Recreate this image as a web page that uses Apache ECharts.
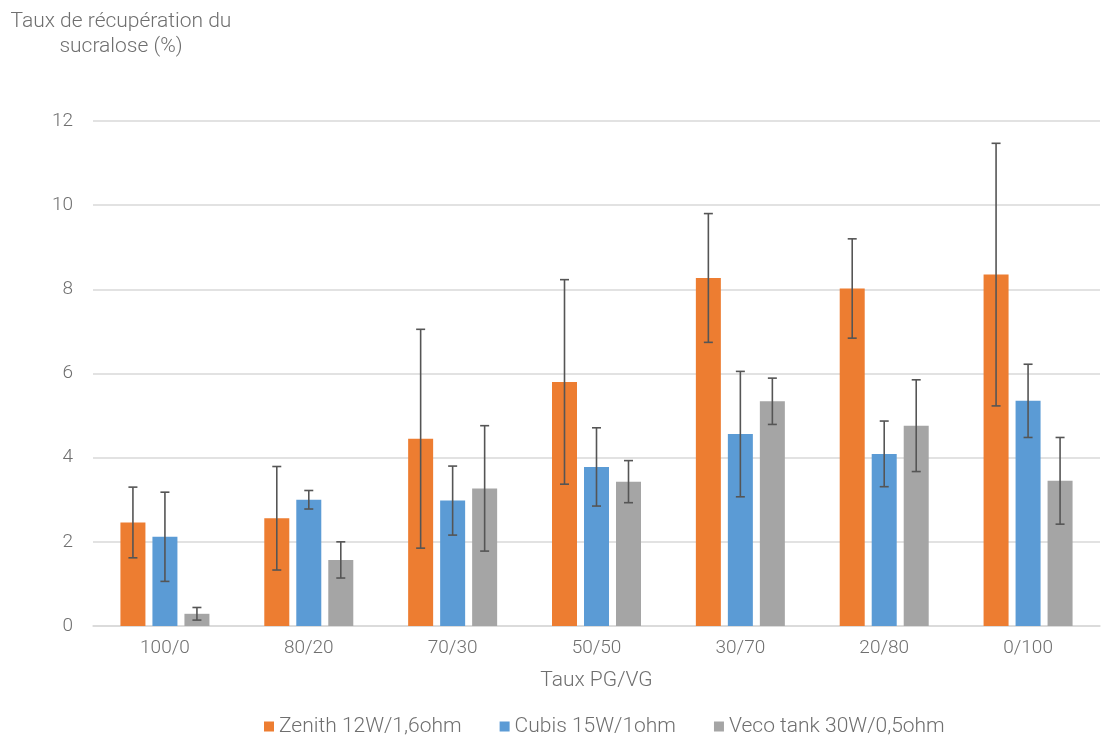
<!DOCTYPE html>
<html>
<head>
<meta charset="utf-8">
<script src="https://cdn.jsdelivr.net/npm/echarts@6/dist/echarts.min.js"></script>
<style>
  html, body { margin: 0; padding: 0; background: #fff; }
  #chart { width: 1112px; height: 736px; }
</style>
</head>
<body>
<div id="chart"></div>
<script>
// PG/VG ratios tested
const categories = ['100/0', '80/20', '70/30', '50/50', '30/70', '20/80', '0/100'];
const seriesNames = ['Zenith 12W/1,6ohm', 'Cubis 15W/1ohm', 'Veco tank 30W/0,5ohm'];

// Mean sucralose recovery (%) per device
const zenith = [2.46, 2.56, 4.45, 5.80, 8.27, 8.02, 8.35];
const cubis = [2.12, 3.00, 2.98, 3.78, 4.56, 4.09, 5.35];
const veco = [0.29, 1.57, 3.27, 3.43, 5.34, 4.76, 3.45];

// Standard deviations (error bars, ±)
const zenithErr = [0.84, 1.23, 2.60, 2.43, 1.53, 1.18, 3.12];
const cubisErr = [1.06, 0.22, 0.82, 0.93, 1.49, 0.78, 0.87];
const vecoErr = [0.15, 0.43, 1.49, 0.50, 0.55, 1.09, 1.03];

const yTicks = [0, 2, 4, 6, 8, 10, 12];

const colors = ['#ED7D31', '#5B9BD5', '#A5A5A5'];
const textColor = '#6f6f6f';
const fontFamily = 'Roboto, "Open Sans", sans-serif';
const LABEL_SIZE = 19;
const NAME_SIZE = 21;
const BAR_W = 25;
const BAR_GAP = 7;

const chart = echarts.init(document.getElementById('chart'));

const values = [zenith, cubis, veco];
const errs = [zenithErr, cubisErr, vecoErr];

const barSeries = values.map((v, i) => ({
  name: seriesNames[i],
  type: 'bar',
  data: v,
  barWidth: BAR_W,
  barGap: (BAR_GAP / BAR_W * 100) + '%',
  itemStyle: { color: colors[i] },
  z: 2
}));

// Error bars drawn over each bar, offset to the bar's slot in its group
const errSeries = values.map((v, i) => ({
  name: seriesNames[i] + ' err',
  type: 'custom',
  data: v.map((m, k) => [k, m - errs[i][k], m + errs[i][k]]),
  z: 5,
  silent: true,
  renderItem: function (params, api) {
    const offset = (i - 1) * (BAR_W + BAR_GAP);
    const lo = api.coord([api.value(0), api.value(1)]);
    const hi = api.coord([api.value(0), api.value(2)]);
    const x = lo[0] + offset;
    const cap = 4.5;
    const style = { stroke: '#555555', lineWidth: 1.6 };
    return {
      type: 'group',
      children: [
        { type: 'line', shape: { x1: x, y1: hi[1], x2: x, y2: lo[1] }, style },
        { type: 'line', shape: { x1: x - cap, y1: hi[1], x2: x + cap, y2: hi[1] }, style },
        { type: 'line', shape: { x1: x - cap, y1: lo[1], x2: x + cap, y2: lo[1] }, style }
      ]
    };
  },
  encode: { x: 0, y: [1, 2] }
}));

chart.setOption({
  animation: false,
  backgroundColor: '#ffffff',
  textStyle: { fontFamily: fontFamily },
  graphic: [{
    type: 'text',
    x: 121,
    y: 9,
    style: {
      text: 'Taux de récupération du\nsucralose (%)',
      fill: textColor,
      font: '300 21px ' + fontFamily,
      textAlign: 'center',
      lineHeight: 25
    }
  }],
  legend: {
    data: seriesNames,
    top: 711,
    left: 259,
    icon: 'rect',
    itemWidth: 10,
    itemHeight: 10,
    itemGap: 38,
    textStyle: { color: textColor, fontSize: NAME_SIZE, fontWeight: 300, fontFamily: fontFamily }
  },
  grid: { left: 93, right: 12, top: 121, bottom: 110 },
  xAxis: {
    type: 'category',
    data: categories,
    name: 'Taux PG/VG',
    nameLocation: 'middle',
    nameGap: 44,
    nameTextStyle: { color: textColor, fontSize: NAME_SIZE, fontWeight: 300 },
    axisLine: { lineStyle: { color: '#d9d9d9', width: 1.5 } },
    axisTick: { show: false },
    axisLabel: { color: textColor, fontSize: LABEL_SIZE, fontWeight: 300, margin: 13 }
  },
  yAxis: {
    type: 'value',
    min: yTicks[0],
    max: yTicks[yTicks.length - 1],
    interval: yTicks[1] - yTicks[0],
    axisLine: { show: false },
    axisTick: { show: false },
    splitLine: { lineStyle: { color: '#d9d9d9', width: 1.5 } },
    axisLabel: { color: textColor, fontSize: LABEL_SIZE, fontWeight: 300, margin: 20 }
  },
  series: barSeries.concat(errSeries)
});
</script>
</body>
</html>
